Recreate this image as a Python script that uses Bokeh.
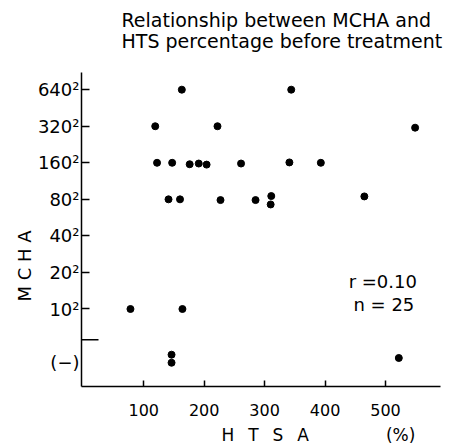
from bokeh.plotting import figure
from bokeh.models import FixedTicker, Label, Range1d, LinearAxis, Title
from bokeh.embed import file_html
from bokeh.resources import INLINE

# ---- data -------------------------------------------------------------
# HTSA (%) of each patient
htsa = [163, 344,
        119, 222, 549,
        122, 147, 176, 191, 204, 261, 341, 393,
        141, 160, 227, 285, 311, 310, 465,
        78, 164,
        146, 146, 522]
# MCHA titre as a level: 1 = 10^2, 2 = 20^2, ... 7 = 640^2; below 0 = negative (−)
mcha_level = [7.0, 7.0,
              6.0, 6.0, 5.96,
              5.0, 5.0, 4.96, 4.98, 4.95, 4.98, 5.01, 5.0,
              4.0, 4.0, 3.98, 3.98, 4.09, 3.86, 4.08,
              1.0, 1.0,
              -0.25, -0.47, -0.34]
y_tick_levels = [1, 2, 3, 4, 5, 6, 7]
y_tick_labels = ["10²", "20²", "40²", "80²", "160²", "320²", "640²"]
negative_level = -0.46
negative_label = "(−)"
cutoff_level = 0.16
x_ticks = [100, 200, 300, 400, 500]
x_name_pos = [301, 525]
x_name_labels = ["H\u2002 T\u2002 S\u2002 A", "(%)"]
title_text = "Relationship between MCHA and\nHTS percentage before treatment\n\u00a0"
y_name = "M C H A"
stats_lines = ["r =0.10", "n = 25"]

FONT = "DejaVu Sans"
X0, X1, Y0, Y1 = -3, 591, -1.12, 7.47

p = figure(width=475, height=447,
           x_range=Range1d(X0, X1), y_range=Range1d(Y0, Y1),
           output_backend="svg", toolbar_location=None,
           min_border_left=81, min_border_right=35,
           min_border_top=72, min_border_bottom=60)
p.outline_line_color = None
p.grid.visible = False
p.background_fill_color = "white"
p.border_fill_color = "white"

# ---- x axis: line, inward ticks, numbers
xa = p.xaxis[0]
xa.ticker = FixedTicker(ticks=x_ticks)
xa.major_tick_in = 6
xa.major_tick_out = 0
xa.major_tick_line_width = 1.5
xa.major_tick_line_color = "black"
xa.axis_line_width = 1.5
xa.axis_line_color = "black"
xa.major_label_text_font = FONT
xa.major_label_text_font_size = "16px"
xa.major_label_text_color = "black"
xa.major_label_standoff = 17

# ---- x axis names (second row, no line / ticks)
xn = LinearAxis(ticker=FixedTicker(ticks=x_name_pos),
                major_label_overrides={k: t for k, t in zip(x_name_pos, x_name_labels)},
                axis_line_color=None, major_tick_line_color=None,
                minor_tick_line_color=None, major_tick_in=0, major_tick_out=0,
                major_label_standoff=6, major_label_text_font=FONT,
                major_label_text_font_size="17px", major_label_text_color="black")
p.add_layout(xn, "below")

# ---- y axis: line, labels (incl. negative row without a tick), short ticks
ya = p.yaxis[0]
lab_ticks = [negative_level] + y_tick_levels
lab_text = [negative_label] + y_tick_labels
EPS = 1e-3  # keeps the visible (minor) ticks distinct from the label positions
ya.ticker = FixedTicker(ticks=lab_ticks, minor_ticks=[t + EPS for t in y_tick_levels])
ya.major_label_overrides = {k: t for k, t in zip(lab_ticks, lab_text)}
ya.major_tick_line_color = None
ya.major_tick_in = 0
ya.major_tick_out = 0
ya.minor_tick_in = 8
ya.minor_tick_out = 0
ya.minor_tick_line_width = 1.5
ya.minor_tick_line_color = "black"
ya.axis_line_width = 1.5
ya.axis_line_color = "black"
ya.major_label_standoff = 2
ya.major_label_text_font = FONT
ya.major_label_text_font_size = "18px"
ya.major_label_text_color = "black"

# long cut-off tick on the y axis
p.ray(x=[X0], y=[cutoff_level], length=17, length_units="screen", angle=0,
      line_color="black", line_width=1.5)

p.add_layout(Title(text=y_name, align="left", offset=85, standoff=0,
                   text_font=FONT, text_font_size="18px",
                   text_font_style="normal", text_color="black"), "left")

p.title.text = title_text
p.title.align = "left"
p.title.offset = 40
p.title.standoff = 0
p.title.text_font = FONT
p.title.text_font_size = "19px"
p.title.text_font_style = "normal"
p.title.text_color = "black"
p.title.text_line_height = 0.95

p.scatter(htsa, mcha_level, size=7, color="black")

for x, y, t in [(439, 1.745, stats_lines[0]), (447, 1.117, stats_lines[1])]:
    p.add_layout(Label(x=x, y=y, text=t, text_font=FONT, text_font_size="18px",
                       text_baseline="alphabetic", text_color="black"))

open("out.html", "w").write(file_html(p, INLINE))
